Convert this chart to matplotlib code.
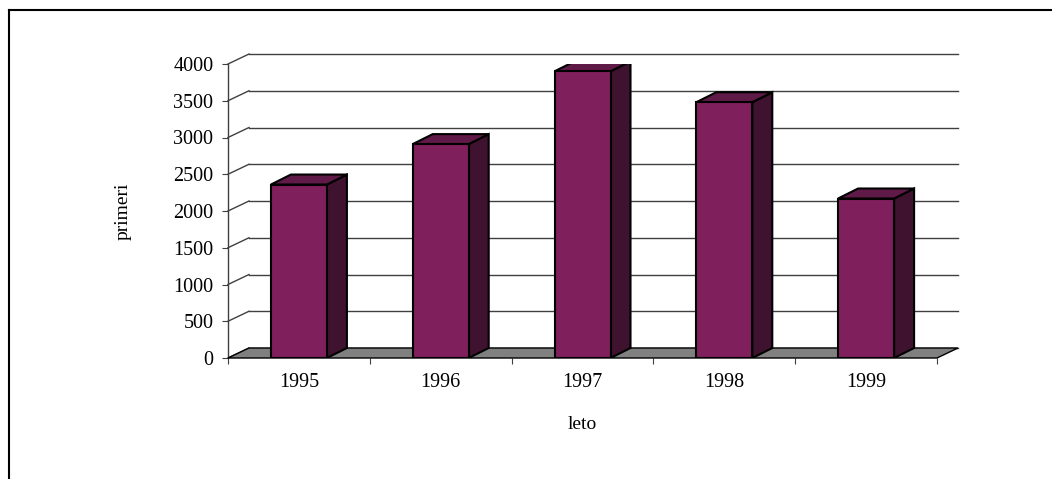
import matplotlib
matplotlib.use('Agg')
import matplotlib.pyplot as plt
from matplotlib.patches import Polygon
import numpy as np

# data
YEARS  = ['1995', '1996', '1997', '1998', '1999']
VALUES = [2360, 2910, 3900, 3480, 2170]
YTICKS = list(range(0, 4001, 500))

FRONT = '#7f1f5c'
SIDE  = '#3f1230'
TOP   = '#5f1a47'
FLOOR = '#808080'
GRID  = '#404040'

W, H = 1052, 479
plt.rcParams['font.family'] = ['Liberation Serif', 'DejaVu Serif']

fig = plt.figure(figsize=(W / 100, H / 100), dpi=100)
# plot area: front plane of the 3D box, in pixels
x0_px, x1_px, y0_px, y1_px = 228, 937, 358, 64
ax = fig.add_axes([x0_px / W, (H - y0_px) / H, (x1_px - x0_px) / W, (y0_px - y1_px) / H])
ax.set_xlim(0, 5)
ax.set_ylim(0, 4000)
for s in ax.spines.values():
    s.set_visible(False)

px_x = 5 / (x1_px - x0_px)       # categories per pixel
px_y = 4000 / (y0_px - y1_px)    # value units per pixel
WALL_DX, WALL_DY = 21 * px_x, 10 * px_y
BAR_DX, BAR_DY = 20 * px_x, 10 * px_y
BAR_W = 56 * px_x

# back wall gridlines with the diagonal from the front axis
for v in YTICKS:
    ax.plot([0, WALL_DX], [v, v + WALL_DY], color=GRID, lw=1, clip_on=False, zorder=1)
    ax.plot([WALL_DX, 5 + WALL_DX], [v + WALL_DY, v + WALL_DY], color=GRID, lw=1,
            clip_on=False, zorder=1)

# front vertical axis
ax.plot([0, 0], [0, 4000], color=GRID, lw=1, clip_on=False, zorder=2)

# floor
floor = Polygon([(0, 0), (5, 0), (5 + WALL_DX, WALL_DY), (WALL_DX, WALL_DY)],
                closed=True, facecolor=FLOOR, edgecolor='black', lw=1, clip_on=False, zorder=2)
ax.add_patch(floor)

# columns
centers = np.arange(len(YEARS)) + 0.5
ax.bar(centers, VALUES, width=BAR_W, color=FRONT, edgecolor='black', lw=1.5, zorder=4)
for c, v in zip(centers, VALUES):
    xl, xr = c - BAR_W / 2, c + BAR_W / 2
    side = Polygon([(xr, 0), (xr + BAR_DX, BAR_DY), (xr + BAR_DX, v + BAR_DY), (xr, v)],
                   closed=True, facecolor=SIDE, edgecolor='black', lw=1.5, zorder=3,
                   joinstyle='miter')
    top = Polygon([(xl, v), (xr, v), (xr + BAR_DX, v + BAR_DY), (xl + BAR_DX, v + BAR_DY)],
                  closed=True, facecolor=TOP, edgecolor='black', lw=1.5, zorder=3,
                  joinstyle='miter')
    ax.add_patch(side)
    ax.add_patch(top)

# ticks
ax.set_yticks(YTICKS)
ax.set_yticklabels([str(v) for v in YTICKS], fontsize=14.5)
ax.tick_params(axis='y', length=4.5, width=0.8, color=GRID, pad=6)
ax.set_xticks(np.arange(0, 6))
ax.set_xticklabels([])
ax.set_xticks(centers, minor=True)
ax.set_xticklabels(YEARS, minor=True, fontsize=14.5)
ax.tick_params(axis='x', which='major', length=4.5, width=0.8, color=GRID)
ax.tick_params(axis='x', which='minor', length=0, pad=11)

ax.set_ylabel('primeri', fontsize=14, labelpad=30)
ax.set_xlabel('leto', fontsize=14, labelpad=17)

# chart frame
fig.add_artist(plt.Line2D([8.5 / W, 8.5 / W], [0, 1 - 10 / H], color='black', lw=1.5,
                          transform=fig.transFigure))
fig.add_artist(plt.Line2D([8.5 / W, 1], [1 - 10 / H, 1 - 10 / H], color='black', lw=1.5,
                          transform=fig.transFigure))

fig.savefig('out.png', dpi=100)
